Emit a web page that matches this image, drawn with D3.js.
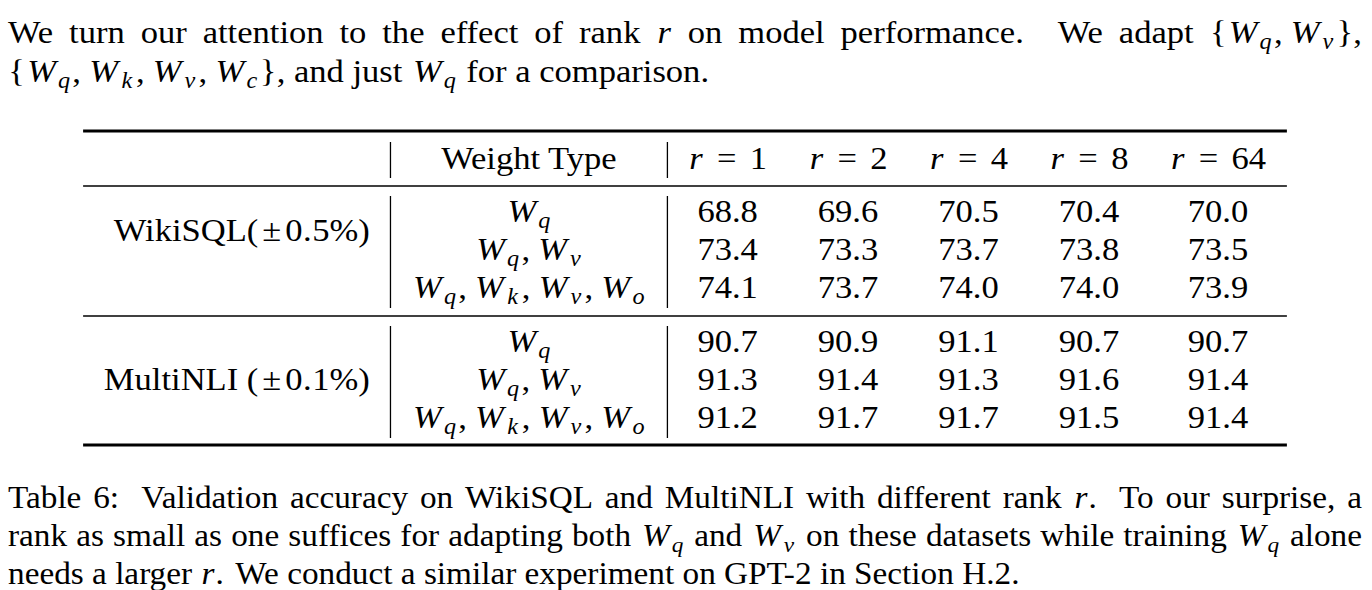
<!DOCTYPE html>
<html>
<head>
<meta charset="utf-8">
<script src="https://cdn.jsdelivr.net/npm/d3@7"></script>
<style>
  body { margin: 0; background: #fff; }
</style>
</head>
<body>
<div id="chart"></div>
<script>
// table data
var ranks = [1, 2, 4, 8, 64];
var datasets = ["WikiSQL($±0.5%$)", "MultiNLI ($±0.1%$)"];
var weightTypes = ["$W_q$", "$W_q, W_v$", "$W_q, W_k, W_v, W_o$"];
var wikisql = [
    [68.8, 69.6, 70.5, 70.4, 70.0],
    [73.4, 73.3, 73.7, 73.8, 73.5],
    [74.1, 73.7, 74.0, 74.0, 73.9]
];
var multinli = [
    [90.7, 90.9, 91.1, 90.7, 90.7],
    [91.3, 91.4, 91.3, 91.6, 91.4],
    [91.2, 91.7, 91.7, 91.5, 91.4]
];
var scores = [wikisql, multinli];

// surrounding text, one entry per printed line
var introLines = [
    "We turn our attention to the effect of rank $r$ on model performance. We adapt ${W_q, W_v}$,",
    "${W_q, W_k, W_v, W_c}$, and just $W_q$ for a comparison."
];
var captionLines = [
    "Table 6: Validation accuracy on WikiSQL and MultiNLI with different rank $r$. To our surprise, a",
    "rank as small as one suffices for adapting both $W_q$ and $W_v$ on these datasets while training $W_q$ alone",
    "needs a larger $r$. We conduct a similar experiment on GPT-2 in Section H.2."
];

var width = 1372;
var height = 590;
var FS = 32;
var CAP_FS = 30.8;
var SX = 1.08;               // the scan is a little wider than it is tall
var FONT = "Liberation Serif";
var textLeft = 8 / SX, textRight = 1362 / SX;

// advance widths (em) of the TeX math fonts, so formulas take their real room
var CM = {W: 0.944, q: 0.46, k: 0.521, v: 0.485, o: 0.485, c: 0.433, r: 0.451,
    "=": 0.778, ",": 0.278, "{": 0.5, "}": 0.5, "±": 0.778, ".": 0.278, "%": 0.833,
    "0": 0.5, "1": 0.5, "2": 0.5, "4": 0.5, "5": 0.5, "6": 0.5, "8": 0.5};

var svg = d3.select("#chart").append("svg")
    .attr("width", width)
    .attr("height", height);

var root = svg.append("g").attr("transform", "scale(" + SX + ",1)");

var probe = svg.append("text").attr("visibility", "hidden").style("font-family", FONT);
var cache = {};
function natural(t, it, size) {
    var key = t + "|" + it + "|" + size;
    if (cache[key] == null) {
        probe.attr("font-size", size).attr("font-style", it ? "italic" : "normal").text(t);
        cache[key] = probe.node().getComputedTextLength();
    }
    return cache[key];
}

// split "$...$" markup into styled pieces
function parseRich(str) {
    var segs = [];
    str.split("$").forEach(function(p, k) {
        if (k % 2 === 0) { if (p) segs.push({t: p}); return; }
        for (var i = 0; i < p.length; i++) {
            var c = p[i];
            if (c === " ") continue;
            if (c === "_") { segs.push({t: p[++i], it: true, sub: true, math: true, after: 0.05}); continue; }
            if (c === "=") { segs.push({t: "=", math: true, before: 0.278, after: 0.278}); continue; }
            if (c === ",") { segs.push({t: ",", math: true, after: 0.167}); continue; }
            segs.push({t: c, it: /[a-zA-Z]/.test(c), math: true});
        }
    });
    return segs;
}

function layoutRich(str, fs) {
    var items = [], x = 0;
    parseRich(str).forEach(function(s) {
        var size = s.sub ? 0.7 * fs : fs;
        var nat = natural(s.t, s.it, size);
        if (!s.math) {
            items.push({t: s.t, it: s.it, size: size, x: x, dy: 0});
            x += nat;
            return;
        }
        x += (s.before || 0) * fs;
        // script-size math glyphs are drawn relatively wider than plain scaling
        var adv = CM[s.t] != null ? CM[s.t] * (s.sub ? 0.77 * fs : fs) : nat;
        items.push({t: s.t, it: s.it, size: size, x: x + (adv - nat) / 2, dy: s.sub ? 0.2 * fs : 0});
        x += adv + (s.after || 0) * fs;
    });
    return {items: items, width: x};
}

function richText(parent, str, y, fs) {
    fs = fs || FS;
    var lay = layoutRich(str, fs);
    var text = parent.append("text").attr("font-size", fs).style("font-family", FONT).attr("fill", "#000");
    text.selectAll("tspan").data(lay.items).enter().append("tspan")
        .attr("x", function(d) { return d.x; })
        .attr("y", function(d) { return y + d.dy; })
        .attr("font-size", function(d) { return d.size; })
        .attr("font-style", function(d) { return d.it ? "italic" : "normal"; })
        .text(function(d) { return d.t; });
    return {el: text, width: lay.width};
}

function splitWords(line) {
    var words = [], cur = "", inMath = false;
    for (var i = 0; i < line.length; i++) {
        var c = line[i];
        if (c === "$") inMath = !inMath;
        if (c === " " && !inMath) { if (cur) words.push(cur); cur = ""; }
        else cur += c;
    }
    if (cur) words.push(cur);
    return words;
}

// set one line of prose, stretching the spaces if justified
function drawLine(g, line, y, justify, fs) {
    var words = splitWords(line).map(function(w) {
        var r = richText(g, w, y, fs);
        r.w = w;
        return r;
    });
    var gaps = words.slice(0, -1).map(function(d) {
        var sentence = /[.:]$/.test(d.w);
        return {base: (sentence ? 0.35 : 0.25) * fs, stretch: sentence ? 3 : 1};
    });
    var extra = 0;
    if (justify) {
        var used = d3.sum(words, function(d) { return d.width; }) + d3.sum(gaps, function(d) { return d.base; });
        extra = (textRight - textLeft - used) / d3.sum(gaps, function(d) { return d.stretch; });
    }
    var x = textLeft;
    words.forEach(function(d, i) {
        d.el.attr("transform", "translate(" + x + ",0)");
        x += d.width;
        if (i < gaps.length) x += gaps[i].base + gaps[i].stretch * extra;
    });
}

var intro = root.append("g");
var introY = d3.scaleLinear().domain([0, 1]).range([43, 82]);
introLines.forEach(function(l, i) { drawLine(intro, l, introY(i), i < introLines.length - 1, FS); });

var caption = root.append("g");
var captionY = d3.scaleLinear().domain([0, 1]).range([508, 546]);
captionLines.forEach(function(l, i) { drawLine(caption, l, captionY(i), i < captionLines.length - 1, CAP_FS); });

// ---- table ----
var pad = 0.6 * FS;
var fmt = d3.format(".1f");
var rankLabel = function(r) { return "$r=" + r + "$"; };
var mathWidth = function(s) { return layoutRich(s, FS).width; };

var colWidths = [
    d3.max(datasets, mathWidth),
    d3.max(["Weight Type"].concat(weightTypes), mathWidth)
].concat(ranks.map(function(r) { return Math.max(mathWidth(rankLabel(r)), mathWidth("00.0")); }));

var tableW = d3.sum(colWidths) + 2 * pad * colWidths.length;
var edges = [(textLeft + textRight) / 2 - tableW / 2];
colWidths.forEach(function(w) { edges.push(edges[edges.length - 1] + w + 2 * pad); });

var colX = d3.scaleOrdinal()
    .domain(["label", "type"].concat(ranks))
    .range(colWidths.map(function(w, i) { return edges[i] + pad + w / 2; }));

var headerY = 169;
var groupTop = [222, 352];
var rowY = d3.scaleLinear().domain([0, 1]).range([0, 38]);

var table = root.append("g");

// horizontal rules
var rules = [{y: 131, w: 3.2}, {y: 186, w: 1.6}, {y: 316, w: 1.6}, {y: 445, w: 3.2}];
table.selectAll(".rule").data(rules).enter().append("line")
    .attr("class", "rule")
    .attr("x1", edges[0]).attr("x2", edges[edges.length - 1])
    .attr("y1", function(d) { return d.y; }).attr("y2", function(d) { return d.y; })
    .attr("stroke", "#000").attr("stroke-width", function(d) { return d.w; });

// vertical separators, broken at each rule
var segs = [[142, 178], [196, 308], [326, 438]];
[edges[1], edges[2]].forEach(function(x) {
    table.selectAll(null).data(segs).enter().append("line")
        .attr("x1", x).attr("x2", x)
        .attr("y1", function(d) { return d[0]; }).attr("y2", function(d) { return d[1]; })
        .attr("stroke", "#000").attr("stroke-width", 1.2);
});

function centered(str, x, y) {
    var t = richText(table, str, y);
    t.el.attr("transform", "translate(" + (x - t.width / 2) + ",0)");
}

centered("Weight Type", colX("type"), headerY);
ranks.forEach(function(r) { centered(rankLabel(r), colX(r), headerY); });

// dataset labels sit flush right in their column
var labelRow = [0.5, 1];
datasets.forEach(function(d, g) {
    var t = richText(table, d, groupTop[g] + rowY(labelRow[g]));
    t.el.attr("transform", "translate(" + (edges[1] - pad - t.width) + ",0)");
});

scores.forEach(function(rows, g) {
    rows.forEach(function(vals, j) {
        var y = groupTop[g] + rowY(j);
        centered(weightTypes[j], colX("type"), y);
        table.selectAll(null).data(vals).enter().append("text")
            .attr("font-size", FS)
            .style("font-family", FONT)
            .attr("text-anchor", "middle")
            .attr("x", function(v, k) { return colX(ranks[k]); })
            .attr("y", y)
            .text(fmt);
    });
});
</script>
</body>
</html>
